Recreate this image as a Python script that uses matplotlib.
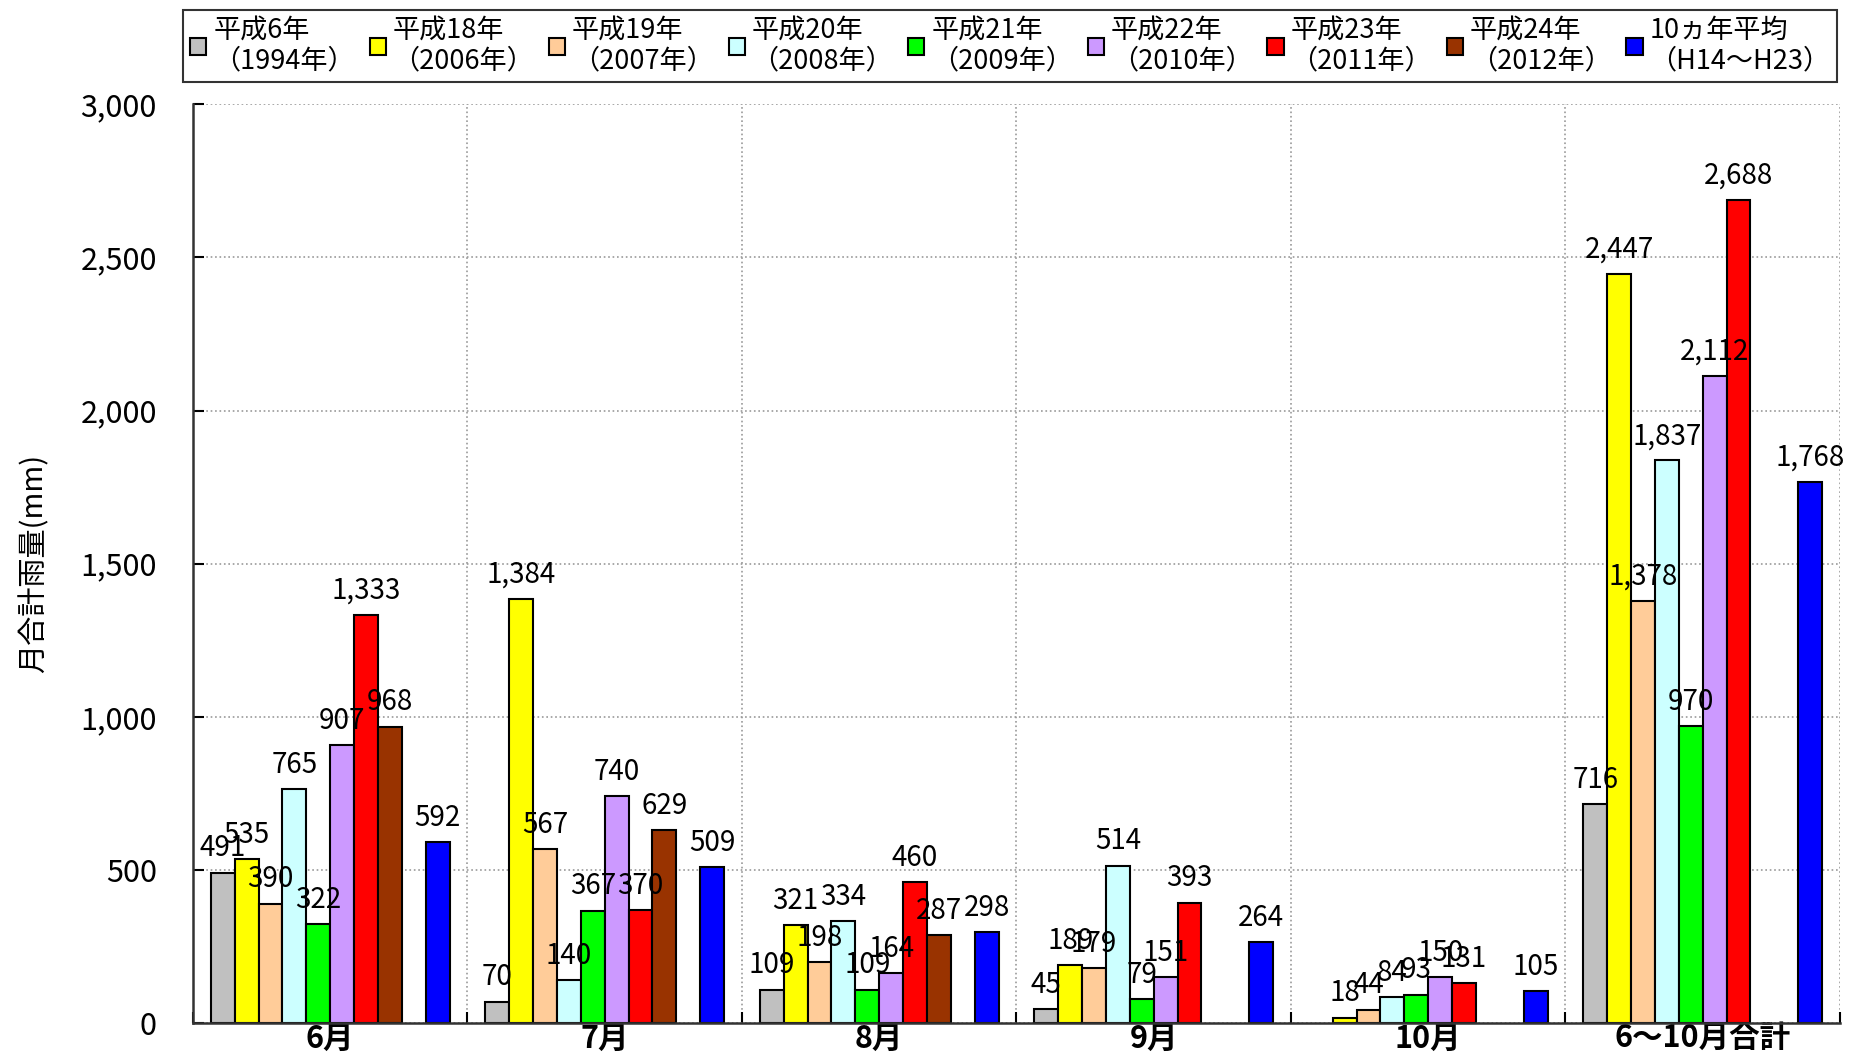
import numpy as np
import matplotlib.pyplot as plt
from matplotlib.patches import Patch

plt.rcParams['font.family'] = ['Noto Sans CJK JP', 'DejaVu Sans']

months = ['6月', '7月', '8月', '9月', '10月', '6〜10月合計']

series_names = ['平成6年\n（1994年）', '平成18年\n（2006年）', '平成19年\n（2007年）',
                '平成20年\n（2008年）', '平成21年\n（2009年）', '平成22年\n（2010年）',
                '平成23年\n（2011年）', '平成24年\n（2012年）', '10ヵ年平均\n（H14〜H23）']
colours = ['#C0C0C0', '#FFFF00', '#FFCC99', '#CCFFFF', '#00FF00', '#CC99FF',
           '#FF0000', '#993300', '#0000FF']

nan = np.nan
h06 = [491, 70, 109, 45, nan, 716]
h18 = [535, 1384, 321, 189, 18, 2447]
h19 = [390, 567, 198, 179, 44, 1378]
h20 = [765, 140, 334, 514, 84, 1837]
h21 = [322, 367, 109, 79, 93, 970]
h22 = [907, 740, 164, 151, 150, 2112]
h23 = [1333, 370, 460, 393, 131, 2688]
h24 = [968, 629, 287, nan, nan, nan]
avg10 = [592, 509, 298, 264, 105, 1768]

series = [h06, h18, h19, h20, h21, h22, h23, h24, avg10]
slots = [0, 1, 2, 3, 4, 5, 6, 7, 9]

fig = plt.figure(figsize=(18.52, 10.64), dpi=100)
ax = fig.add_axes([0.1042, 0.0385, 0.8893, 0.8635])

width = 1 / 11.5
x = np.arange(len(months))
handles = []
for vals, slot, col, name in zip(series, slots, colours, series_names):
    pos = x - 0.5 + (0.75 + slot) * width
    vals = np.array(vals, dtype=float)
    ax.bar(pos, vals, width, color=col, edgecolor='black', linewidth=1.5, align='edge')
    for p, v in zip(pos, vals):
        if np.isnan(v):
            continue
        ax.text(p + width / 2, v + 30, f'{int(v):,}', ha='center', va='bottom', fontsize=20)
    handles.append(Patch(facecolor=col, edgecolor='black', linewidth=1.5, label=name))

ax.set_xlim(-0.5, len(months) - 0.5)
ax.set_ylim(0, 3000)
ax.set_yticks(np.arange(0, 3001, 500))
ax.set_yticklabels([f'{v:,}' for v in range(0, 3001, 500)], fontsize=22)
ax.set_xticks(x)
ax.set_xticklabels(months, fontsize=22, fontweight='bold')
ax.tick_params(axis='x', length=0, pad=0)
ax.tick_params(axis='y', direction='in', length=8, width=1.5, pad=26)
ax.set_xticks(np.arange(-0.5, len(months)), minor=True)
ax.tick_params(axis='x', which='minor', direction='in', length=8, width=1.5)
ax.grid(axis='y', linestyle=':', color='#999999', linewidth=1.2)
ax.grid(axis='x', which='minor', linestyle=':', color='#999999', linewidth=1.2)
ax.set_axisbelow(True)
for s in ['top', 'right']:
    ax.spines[s].set_visible(False)
for s in ['left', 'bottom']:
    ax.spines[s].set_linewidth(1.8)
    ax.spines[s].set_color('#333333')

ax.set_ylabel('月合計雨量(mm)', fontsize=21, labelpad=22)

leg = fig.legend(handles=handles, loc='center', bbox_to_anchor=(0.099, 0.918, 0.893, 0.078),
                 mode='expand', ncol=9, fontsize=19.5, frameon=True, fancybox=False,
                 edgecolor='black', handlelength=0.6, handleheight=0.6, handletextpad=0.25,
                 columnspacing=0.5, borderaxespad=0.0, borderpad=0.25, labelspacing=0.1)
leg.get_frame().set_linewidth(1.5)

fig.savefig('out.png', dpi=100)
